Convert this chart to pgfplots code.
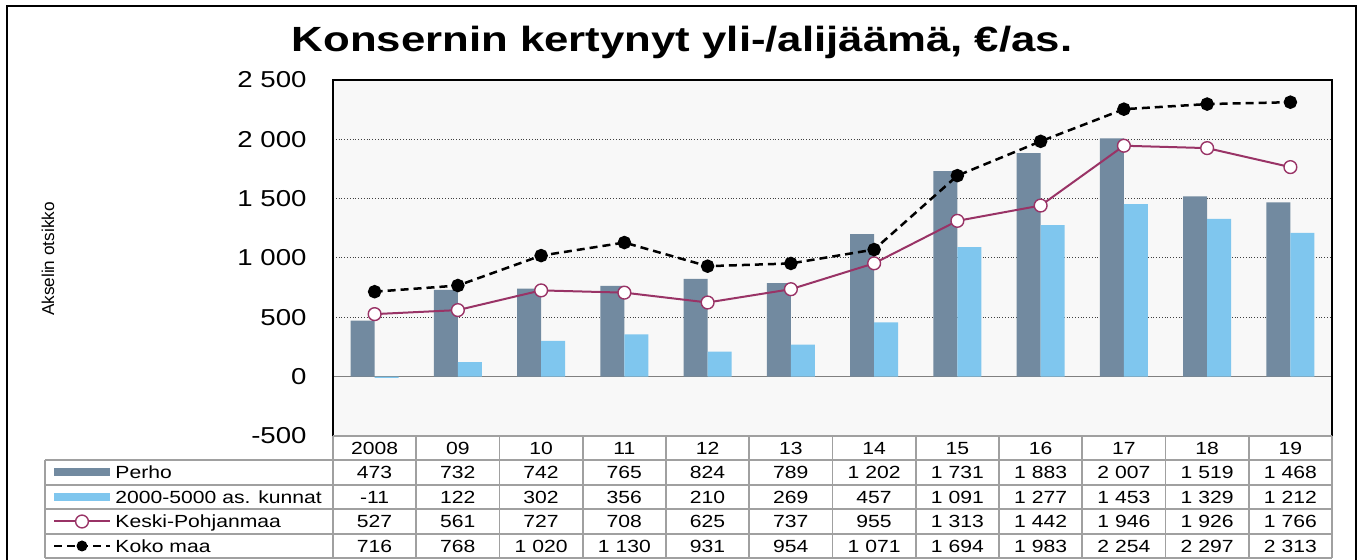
\documentclass[border=0pt]{standalone}
\usepackage{pgfplots}
\usepackage{pgfplotstable}
\pgfplotsset{compat=1.18}
\usepackage{fontspec}
\setmainfont{Liberation Sans}
\definecolor{perho}{RGB}{114,138,160}
\definecolor{kunnat}{RGB}{127,198,238}
\definecolor{keski}{RGB}{153,51,102}
\definecolor{tgrid}{RGB}{160,160,160}
\definecolor{plotbg}{RGB}{248,248,248}

\pgfplotstableread{
x perho kunnat keski koko
0 473 -11 527 716
1 732 122 561 768
2 742 302 727 1020
3 765 356 708 1130
4 824 210 625 931
5 789 269 737 954
6 1202 457 955 1071
7 1731 1091 1313 1694
8 1883 1277 1442 1983
9 2007 1453 1946 2254
10 1519 1329 1926 2297
11 1468 1212 1766 2313
}\datatable

\pgfkeys{/pgf/number format/.cd, 1000 sep={\ }, assume math mode=true}

\begin{document}
\begin{tikzpicture}[x=1pt,y=1pt,
  tab/.style={font=\fontsize{8.8}{9}\selectfont, inner sep=0pt, text height=6.3pt, text depth=0pt, anchor=center, xscale=1.2}]
\useasboundingbox (0,0) rectangle (679,280);
\draw[black, line width=0.75pt] (3.5,-10) rectangle (678,277);
\node[anchor=base, font=\fontsize{17.5}{18}\selectfont\bfseries, xscale=1.25, inner sep=0pt] at (341,254) {Konsernin kertynyt yli-/alijäämä, €/as.};
\begin{axis}[
  at={(166.5pt,62pt)}, anchor=south west, scale only axis,
  width=499.5pt, height=178pt,
  xmin=-0.5, xmax=11.5, ymin=-500, ymax=2500,
  xtick=\empty,
  ytick={-500,0,500,1000,1500,2000,2500},
  yticklabels={-500,0,500,1 000,1 500,2 000,2 500},
  major tick length=0pt,
  yticklabel style={anchor=east, inner sep=0pt, xshift=-13pt, font=\fontsize{11.5}{12}\selectfont, xscale=1.2},
  ymajorgrids, grid style={densely dotted, line width=0.5pt, black!75},
  extra y ticks={0}, extra y tick labels={},
  extra y tick style={grid style={solid, gray, line width=0.75pt}},
  axis line style={draw=none},
  axis background/.style={fill=plotbg},
  ylabel={Akselin otsikko},
  ylabel style={at={(axis description cs:-0.2853,0.497)}, anchor=center, font=\fontsize{8.6}{9}\selectfont},
  clip=false,
]
\addplot[ybar, bar width=12pt, bar shift=-6pt, fill=perho, draw=none] table[x=x,y=perho]{\datatable};
\addplot[ybar, bar width=12pt, bar shift=6pt, fill=kunnat, draw=none] table[x=x,y=kunnat]{\datatable};
\addplot[keski, line width=1pt, mark=*, mark size=3.2pt, mark options={fill=white, draw=keski, line width=0.7pt, solid}] table[x=x,y=keski]{\datatable};
\addplot[black, line width=1.25pt, dash pattern=on 4pt off 2.5pt, mark=*, mark size=2.75pt, mark options={solid, fill=black}] table[x=x,y=koko]{\datatable};
\draw[black, line width=1pt] (rel axis cs:0,0) -- (rel axis cs:0,1) -- (rel axis cs:1,1) -- (rel axis cs:1,0);
\end{axis}
% table grid
\begin{scope}[tgrid, line width=0.8pt]
\foreach \k in {0,...,12} \draw ({166.5+\k*41.625},62) -- ({166.5+\k*41.625},1);
\draw (166.5,62) -- (666,62);
\foreach \yy in {50,37.5,25.5,13,1} \draw (22.5,\yy) -- (666,\yy);
\draw (22.5,50) -- (22.5,1);
\end{scope}
% header years
\foreach \lab [count=\i from 0] in {2008,09,10,11,12,13,14,15,16,17,18,19}
  \node[tab] at ({187.3+\i*41.625},56) {\lab};
% values
\foreach \i in {0,...,11}{
  \pgfplotstablegetelem{\i}{perho}\of\datatable
  \node[tab] at ({187.3+\i*41.625},43.75) {\pgfmathprintnumber{\pgfplotsretval}};
  \pgfplotstablegetelem{\i}{kunnat}\of\datatable
  \node[tab] at ({187.3+\i*41.625},31.5) {\pgfmathprintnumber{\pgfplotsretval}};
  \pgfplotstablegetelem{\i}{keski}\of\datatable
  \node[tab] at ({187.3+\i*41.625},19.25) {\pgfmathprintnumber{\pgfplotsretval}};
  \pgfplotstablegetelem{\i}{koko}\of\datatable
  \node[tab] at ({187.3+\i*41.625},7) {\pgfmathprintnumber{\pgfplotsretval}};
}
% legend symbols
\fill[perho] (27,41.75) rectangle (55,45.75);
\fill[kunnat] (27,29.5) rectangle (55,33.5);
\draw[keski, line width=1pt] (27,19.25) -- (55,19.25);
\draw[keski, fill=white, line width=0.7pt] (41,19.25) circle (3.2);
\draw[black, line width=1.25pt, dash pattern=on 4pt off 2.5pt] (27,7) -- (55,7);
\fill[black] (41,7) circle (2.75);
\node[tab, anchor=west] at (57.5,43.75) {Perho};
\node[tab, anchor=west] at (57.5,31.5) {2000-5000 as. kunnat};
\node[tab, anchor=west] at (57.5,19.25) {Keski-Pohjanmaa};
\node[tab, anchor=west] at (57.5,7) {Koko maa};
\end{tikzpicture}
\end{document}
